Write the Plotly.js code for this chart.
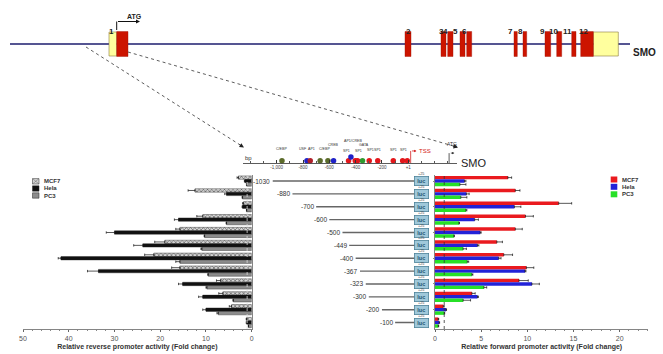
<!DOCTYPE html>
<html><head><meta charset="utf-8">
<script src="https://cdn.plot.ly/plotly-3.0.1.min.js"></script>
<style>html,body{margin:0;padding:0;background:#fff}#c{width:663px;height:354px}</style>
</head><body><div id="c"></div>
<script>
// ---- data ----
const constructs = ["-1030","-880","-700","-600","-500","-449","-400","-367","-323","-300","-200","-100"];
const constructBp = [-1030,-880,-700,-600,-500,-449,-400,-367,-323,-300,-200,-100];
const cells = ["MCF7","Hela","PC3"];

// reverse promoter activity (fold change)
const revMCF7 = [2.9,12.4,1.8,10.7,15.7,19.0,21.4,15.7,6.8,6.3,4.4,1.1];
const revMCF7Err = [0.3,1.5,0.2,1.3,0.9,2.2,2.0,1.8,0.9,0.9,0.5,0.1];
const revHela = [1.5,5.5,2.0,16.0,30.0,23.8,41.7,33.5,15.1,10.7,10.0,1.1];
const revHelaErr = [0.1,0.4,0.1,0.9,1.8,2.0,0.6,2.4,0.9,0.9,0.7,0.1];
const revPC3 = [1.1,2.0,1.1,5.5,10.3,10.9,15.7,9.5,9.8,4.0,7.3,0.7];
const revPC3Err = [0.05,0.1,0.05,0.1,0.1,0.2,0.9,0.1,0.2,0.1,0.3,0.05];

// forward promoter activity (fold change)
const fwdMCF7 = [7.9,8.7,13.4,9.8,8.7,6.7,7.45,9.9,9.1,4.0,0.9,0.35];
const fwdMCF7Err = [0.4,0.5,1.4,0.85,0.75,0.6,0.95,0.8,1.0,0.35,0.1,0.05];
const fwdHela = [3.2,3.4,8.6,4.3,4.9,4.6,6.9,9.75,10.5,4.6,1.2,0.45];
const fwdHelaErr = [0.15,0.3,0.7,0.4,0.1,0.15,0.25,0.1,0.8,0.1,0.05,0.05];
const fwdPC3 = [2.7,2.8,3.35,2.6,2.05,3.05,3.5,4.0,5.3,3.05,1.0,0.35];
const fwdPC3Err = [0.65,0.65,0.1,0.05,0.05,0.35,0.15,0.1,0.3,0.8,0.05,0.05];

// transcription-factor binding sites on the promoter map (bp from TSS)
const tfBp = [-960,-770,-745,-670,-611,-568,-454,-436,-403,-386,-348,-297,-232,-114,-43,-8];
const tfType = ["C/EBP","USF","AP1","C/EBP","C/EBP","CREB","SP1","AP1/CREB","SP1","SP1","GATA","SP1","SP1","SP1","SP1","SP1"];
const tfLabelText = ["C/EBP","USF","AP1","C/EBP","CREB","AP1/CREB","SP1","SP1","GATA","SP1","SP1","SP1","SP1"];
const tfLabelBp = [-960,-800,-735,-640,-568,-420,-470,-380,-340,-290,-232,-114,-40];
const tfLabelLevel = [0.55,0.55,0.55,0.55,0.75,1.0,0.45,0.45,0.75,0.5,0.5,0.5,0.5];
const promoterTicks = [-1000,-800,-600,-400,-200,0];
const promoterTickText = ["-1,000","-800","-600","-400","-200","+1"];

// gene structure (diagram units along the gene)
const exonNum = ["1","2","3","4","5","6","7","8","9","10","11","12"];
const exonStart = [116.7,405,441,447.7,460,466.7,514,523,545,556.7,571.7,580.7];
const exonEnd = [128,411,446,453,465,471.7,517.3,526.7,550.7,561.7,576,593.3];
const exonLabelPos = [106.7,408,441,450,460,469,515,524.5,547,560,574,590];
const utrStart = [109,593.3];
const utrEnd = [116.7,618.3];

// ---- styles / layout helpers ----
const W=663,H=354;
const P = x => x/W, Q = y => 1 - y/H;
const FONT = "Liberation Sans, Arial, sans-serif";
const tfColor = {"C/EBP":"#5b6b2a","USF":"#1f22c8","AP1":"#b0202a","CREB":"#1f22c8","AP1/CREB":"#1f22c8","SP1":"#e3171b","GATA":"#2f9a2f"};
const fwdColors = ["#ea1a1f","#2222d8","#27e027"];
const revStyle = [
  {color:"#d4d4d4", pattern:{shape:"x", fgcolor:"#555", bgcolor:"#d4d4d4", size:3, solidity:0.35}},
  {color:"#111"},
  {color:"#8c8c8c"}
];
const rowDomain = [1-329/H, 1-174.6/H];

function errBar(arr){return {type:"data", array:arr, arrayminus:arr.map(()=>0), symmetric:false, color:"#111", thickness:0.7, width:1.2};}

const traces = [];
const revVals = [revMCF7, revHela, revPC3], revErrs = [revMCF7Err, revHelaErr, revPC3Err];
const fwdVals = [fwdMCF7, fwdHela, fwdPC3], fwdErrs = [fwdMCF7Err, fwdHelaErr, fwdPC3Err];
cells.forEach((c,i)=>{
  traces.push({type:"bar", orientation:"h", name:c, x:revVals[i], y:constructs, xaxis:"x", yaxis:"y",
    marker:Object.assign({line:{color:"#222", width:0.4}}, revStyle[i]), error_x:errBar(revErrs[i]), showlegend:false, hoverinfo:"x+name"});
});
cells.forEach((c,i)=>{
  traces.push({type:"bar", orientation:"h", name:c, x:fwdVals[i], y:constructs, xaxis:"x2", yaxis:"y2",
    marker:{color:fwdColors[i], line:{width:0}}, error_x:errBar(fwdErrs[i]), showlegend:false, hoverinfo:"x+name"});
});

// construct lines (bp start -> luc)
const lx=[], ly=[];
constructBp.forEach((b,i)=>{lx.push(b,50,null); ly.push(constructs[i],constructs[i],null);});
traces.push({type:"scatter", mode:"lines", x:lx, y:ly, xaxis:"x3", yaxis:"y3", line:{color:"#666", width:1.4}, showlegend:false, hoverinfo:"skip", cliponaxis:false});

// TF binding sites
traces.push({type:"scatter", mode:"markers", x:tfBp, y:tfType.map(t=>t==="AP1/CREB"?0.33:0.12), xaxis:"x4", yaxis:"y4",
  marker:{size:5.5, color:tfType.map(t=>tfColor[t]), line:{width:0}}, showlegend:false, cliponaxis:false, text:tfType, hoverinfo:"text"});

const ann = [], shapes = [];

// construct labels, luc boxes (category axis -> serial index)
constructBp.forEach((b,i)=>{
  ann.push({xref:"x3", yref:"y3", x:b, y:i, text:constructs[i], showarrow:false, xanchor:"right", xshift:-0.5,
    font:{family:FONT, size:6.5, color:"#333"}});
  ann.push({xref:"x3", yref:"y3", x:100, y:i, text:"<b>luc</b>", showarrow:false, xanchor:"center",
    bgcolor:"#9fc8da", bordercolor:"#4d8299", borderwidth:0.8, borderpad:1, width:11, height:6.5,
    font:{family:FONT, size:5.5, color:"#1f5670"}});
  ann.push({xref:"x3", yref:"y3", x:100, y:i, text:"+25", showarrow:false, yshift:7,
    font:{family:FONT, size:3.8, color:"#444"}});
});

// TF labels
tfLabelText.forEach((t,i)=>{
  ann.push({xref:"x4", yref:"y4", x:tfLabelBp[i], y:tfLabelLevel[i], text:t, showarrow:false, yanchor:"bottom",
    font:{family:FONT, size:3.6, color:"#333"}});
});
// TSS / ATG brackets on promoter map
shapes.push({type:"line", xref:"x4", yref:"y4", x0:18, x1:18, y0:0, y1:0.67, line:{color:"#d42020", width:0.8}});
ann.push({xref:"x4", yref:"y4", x:62, y:0.67, ax:-6, ay:0, text:"", showarrow:true, arrowhead:2, arrowsize:0.6, arrowwidth:0.8, arrowcolor:"#d42020"});
ann.push({xref:"x4", yref:"y4", x:64, y:0.67, text:"TSS", showarrow:false, xanchor:"left", font:{family:FONT, size:6, color:"#d42020"}});
shapes.push({type:"line", xref:"x4", yref:"y4", x0:310, x1:310, y0:0, y1:0.55, line:{color:"#333", width:0.8}});
ann.push({xref:"x4", yref:"y4", x:350, y:0.55, ax:-5, ay:0, text:"", showarrow:true, arrowhead:2, arrowsize:0.6, arrowwidth:0.8, arrowcolor:"#333"});
ann.push({xref:"x4", yref:"y4", x:330, y:0.8, text:"ATG", showarrow:false, yanchor:"bottom", font:{family:FONT, size:5, color:"#333"}});
ann.push({xref:"paper", yref:"paper", x:P(243), y:Q(158), text:"bp", showarrow:false, xanchor:"left", font:{family:FONT, size:6, color:"#333"}});
ann.push({xref:"paper", yref:"paper", x:P(459), y:Q(163), text:"SMO", showarrow:false, xanchor:"left", font:{family:FONT, size:11, color:"#222"}});

// gene structure
shapes.push({type:"line", xref:"paper", yref:"paper", x0:P(10), x1:P(630), y0:Q(44), y1:Q(44), line:{color:"#1c1c6e", width:1.5}});
utrStart.forEach((s,i)=>shapes.push({type:"rect", xref:"paper", yref:"paper", x0:P(s), x1:P(utrEnd[i]), y0:Q(56), y1:Q(32), fillcolor:"#ffff9e", line:{color:"#8a7a40", width:0.6}}));
exonStart.forEach((s,i)=>shapes.push({type:"rect", xref:"paper", yref:"paper", x0:P(s), x1:P(exonEnd[i]), y0:Q(56.5), y1:Q(31.5), fillcolor:"#cc1400", line:{color:"#a01000", width:0.4}}));
exonNum.forEach((n,i)=>ann.push({xref:"paper", yref:"paper", x:P(exonLabelPos[i]), y:Q(25), text:"<b>"+n+"</b>", showarrow:false, font:{family:FONT, size:8, color:"#222"}}));
ann.push({xref:"paper", yref:"paper", x:P(631), y:Q(45), text:"<b>SMO</b>", showarrow:false, xanchor:"left", font:{family:FONT, size:10, color:"#222"}});
ann.push({xref:"paper", yref:"paper", x:P(125), y:Q(11), text:"<b>ATG</b>", showarrow:false, font:{family:FONT, size:7, color:"#222"}});
shapes.push({type:"line", xref:"paper", yref:"paper", x0:P(116.7), x1:P(116.7), y0:Q(30), y1:Q(21.5), line:{color:"#111", width:1}});
ann.push({xref:"paper", yref:"paper", x:P(140), y:Q(21.5), ax:-23.5, ay:0, text:"", showarrow:true, arrowhead:2, arrowsize:0.8, arrowwidth:1, arrowcolor:"#111"});

// dashed zoom lines
shapes.push({type:"line", xref:"paper", yref:"paper", x0:P(86), y0:Q(47), x1:P(241), y1:Q(145.5), line:{color:"#333", width:0.8, dash:"dot"}});
shapes.push({type:"line", xref:"paper", yref:"paper", x0:P(128), y0:Q(52), x1:P(455), y1:Q(146.5), line:{color:"#333", width:0.8, dash:"dot"}});
ann.push({xref:"paper", yref:"paper", x:P(244), y:Q(147.5), ax:-6, ay:-3.8, text:"", showarrow:true, arrowhead:2, arrowsize:0.9, arrowwidth:1, arrowcolor:"#222"});
ann.push({xref:"paper", yref:"paper", x:P(458), y:Q(147.5), ax:-6.5, ay:-1.9, text:"", showarrow:true, arrowhead:2, arrowsize:0.9, arrowwidth:1, arrowcolor:"#222"});

// reference lines at fold change = 1
shapes.push({type:"line", xref:"x2", yref:"y2 domain", x0:1, x1:1, y0:0, y1:1, line:{color:"#333", width:0.8, dash:"dot"}});
shapes.push({type:"line", xref:"x", yref:"y domain", x0:1, x1:1, y0:0, y1:1, line:{color:"#ddd", width:0.8, dash:"dot"}});

// manual legends
const revLegendY = [181.3,188.5,195.5];
cells.forEach((c,i)=>{
  const y=revLegendY[i];
  shapes.push({type:"rect", xref:"paper", yref:"paper", x0:P(32.5), x1:P(39), y0:Q(y+2.7), y1:Q(y-2.7),
    fillcolor:revStyle[i].color, line:{color:"#222", width:0.5}});
  if(i===0){
    shapes.push({type:"line", xref:"paper", yref:"paper", x0:P(32.5), x1:P(39), y0:Q(y+2.7), y1:Q(y-2.7), line:{color:"#666", width:0.5}});
    shapes.push({type:"line", xref:"paper", yref:"paper", x0:P(32.5), x1:P(39), y0:Q(y-2.7), y1:Q(y+2.7), line:{color:"#666", width:0.5}});
  }
  ann.push({xref:"paper", yref:"paper", x:P(41.5), y:Q(y), text:"<b>"+c+"</b>", showarrow:false, xanchor:"left", font:{family:FONT, size:6, color:"#333"}});
});
const fwdLegendY = [179.5,186.8,194.3];
cells.forEach((c,i)=>{
  const y=fwdLegendY[i];
  shapes.push({type:"rect", xref:"paper", yref:"paper", x0:P(610.7), x1:P(617.3), y0:Q(y+3), y1:Q(y-3), fillcolor:fwdColors[i], line:{width:0}});
  ann.push({xref:"paper", yref:"paper", x:P(619.5), y:Q(y), text:"<b>"+c+"</b>", showarrow:false, xanchor:"left", font:{family:FONT, size:6, color:"#333"}});
});

const tickFont = {family:FONT, size:7, color:"#555"};
const titleFont = {family:FONT, size:7, color:"#333", weight:"bold"};
const catAxis = (anchor, extra) => Object.assign({type:"category", categoryorder:"array", categoryarray:constructs, range:[11.5,-0.5],
  domain:rowDomain, anchor:anchor, showticklabels:false, showgrid:false, zeroline:false}, extra);

const layout = {
  width:W, height:H, margin:{l:0,r:0,t:0,b:0}, paper_bgcolor:"#fff", plot_bgcolor:"rgba(0,0,0,0)",
  showlegend:false, barmode:"group", bargap:0.2, bargroupgap:0,
  font:{family:FONT},
  xaxis:{domain:[23/W, 251.7/W], range:[50,0], anchor:"y", tickvals:[0,10,20,30,40,50], showline:true, linecolor:"#666", linewidth:0.8,
    ticks:"outside", ticklen:2.5, tickcolor:"#666", minor:{dtick:2, ticks:"outside", ticklen:1.5, tickcolor:"#888"}, tickfont:tickFont,
    showgrid:false, zeroline:false, title:{text:"<b>Relative reverse promoter activity (Fold change)</b>", font:titleFont, standoff:3}},
  yaxis:catAxis("x", {side:"right", showline:true, linecolor:"#666", linewidth:0.8, ticks:""}),
  xaxis2:{domain:[435/W, 648.3/W], range:[0,23.1], anchor:"y2", dtick:5, showline:true, linecolor:"#666", linewidth:0.8,
    ticks:"outside", ticklen:2.5, tickcolor:"#666", minor:{dtick:1, ticks:"outside", ticklen:1.5, tickcolor:"#888"}, tickfont:tickFont,
    showgrid:false, zeroline:false, title:{text:"<b>Relative forward promoter activity (Fold change)</b>", font:titleFont, standoff:3}},
  yaxis2:catAxis("x2", {showline:true, linecolor:"#666", linewidth:0.8, ticks:"outside", ticklen:1.5, tickcolor:"#888"}),
  xaxis3:{domain:[237.2/W, 434.6/W], range:[-1300,200], anchor:"y3", visible:false},
  yaxis3:catAxis("x3", {visible:false}),
  xaxis4:{domain:[243/W, 457/W], range:[-1256,370], anchor:"y4", showline:true, linecolor:"#333", linewidth:0.8,
    tickvals:promoterTicks, ticktext:promoterTickText, ticks:"inside", ticklen:3, tickcolor:"#333",
    minor:{tick0:0, dtick:100, ticks:"inside", ticklen:2, tickcolor:"#555"},
    tickfont:{family:FONT, size:4.5, color:"#444"}, showgrid:false, zeroline:false},
  yaxis4:{domain:[1-163/H, 1-145/H], range:[0,1], anchor:"x4", visible:false},
  shapes:shapes, annotations:ann
};
Plotly.newPlot("c", traces, layout, {displayModeBar:false, staticPlot:true});
</script></body></html>
